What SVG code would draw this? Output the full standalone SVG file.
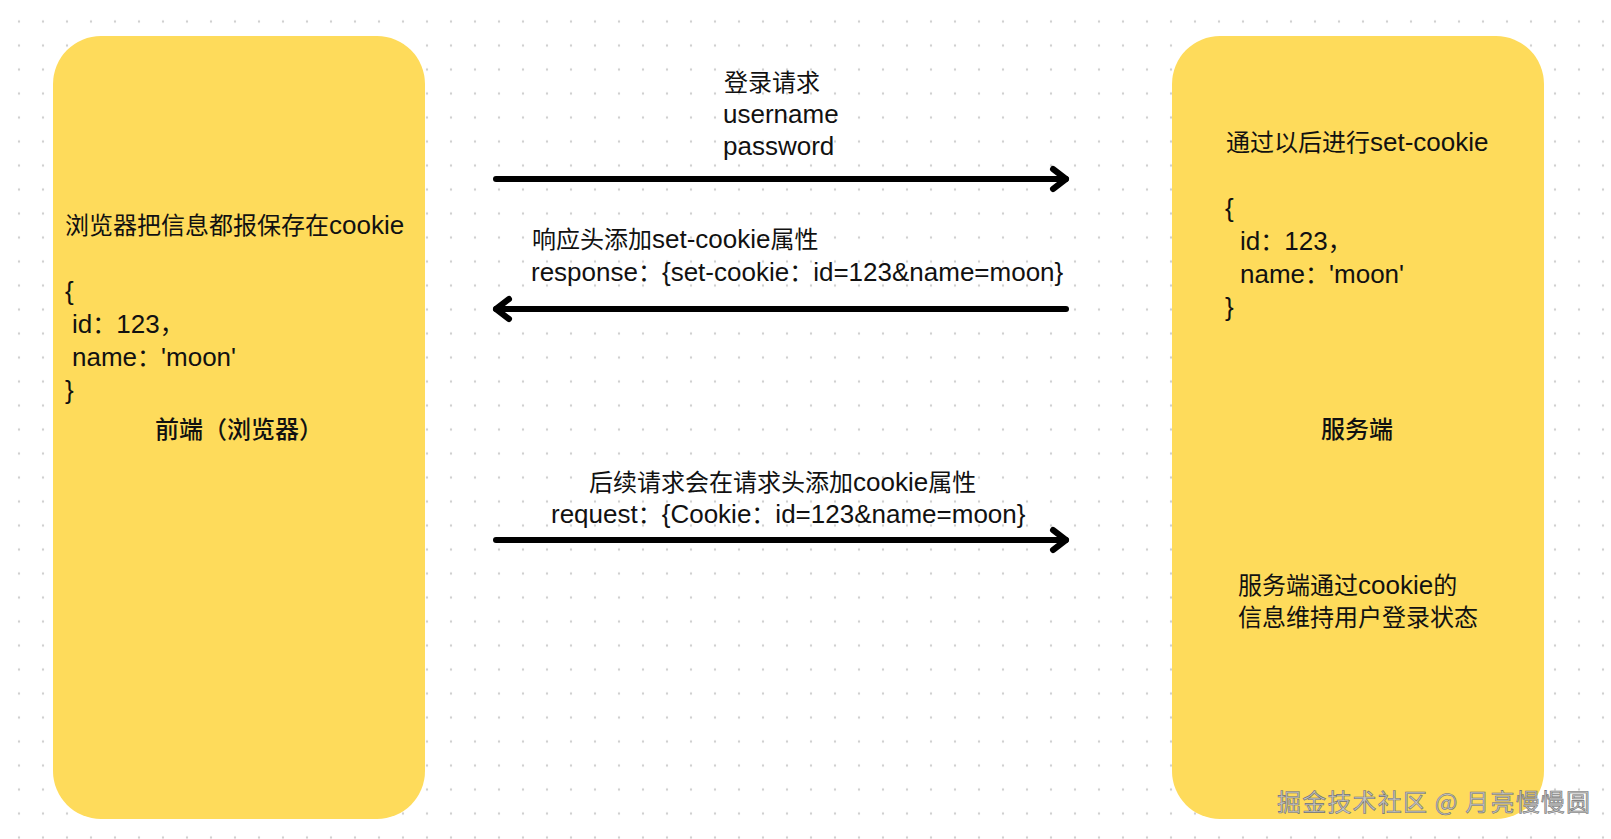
<svg xmlns="http://www.w3.org/2000/svg" width="1611" height="839" viewBox="0 0 1611 839">
<style>
.c{font-family:"Noto Sans CJK SC","Noto Sans CJK JP",sans-serif;font-size:24px;fill:#111}
.l{font-family:"Liberation Sans",Arial,sans-serif;font-size:26px;fill:#111}
.b{font-weight:500}
.box{fill:#FEDB5B}
.arrow{fill:none;stroke:#000;stroke-width:6;stroke-linecap:round;stroke-linejoin:round}
.wm{font-family:"Noto Sans CJK SC",sans-serif;font-size:24px;fill:#c4c4c4;stroke:#707070;stroke-width:0.6;letter-spacing:1.2px}
</style>
<defs>
<pattern id="dots" x="7" y="9.5" width="24" height="24" patternUnits="userSpaceOnUse">
<circle cx="12" cy="12" r="1.2" fill="#cfcfcf"/>
</pattern>
<marker id="chev" markerUnits="userSpaceOnUse" viewBox="-20 -16 26 32" refX="0" refY="0" markerWidth="26" markerHeight="32" orient="auto" overflow="visible">
<path d="M-13 -10 L0 0 L-13 10" fill="none" stroke="#000" stroke-width="6" stroke-linecap="round" stroke-linejoin="round"/>
</marker>
</defs>
<rect width="1611" height="839" fill="#fff"/>
<rect width="1611" height="839" fill="url(#dots)"/>

<g id="node-frontend">
<rect class="box" x="53" y="36" width="372" height="783" rx="48" ry="48"/>
<text class="c" x="65" y="234">浏览器把信息都报保存在<tspan class="l">cookie</tspan></text>
<text class="l" x="65" y="300">{</text>
<text class="c" x="72" y="333"><tspan class="l">id</tspan>：<tspan class="l">123</tspan>，</text>
<text class="c" x="72" y="366"><tspan class="l">name</tspan>：<tspan class="l">'moon'</tspan></text>
<text class="l" x="65" y="399">}</text>
<text class="c b" x="239" y="438" text-anchor="middle">前端（浏览器）</text>
</g>

<g id="node-server">
<rect class="box" x="1172" y="36" width="372" height="783" rx="48" ry="48"/>
<text class="c" x="1226" y="151">通过以后进行<tspan class="l">set-cookie</tspan></text>
<text class="l" x="1225" y="217">{</text>
<text class="c" x="1240" y="250"><tspan class="l">id</tspan>：<tspan class="l">123</tspan>，</text>
<text class="c" x="1240" y="283"><tspan class="l">name</tspan>：<tspan class="l">'moon'</tspan></text>
<text class="l" x="1225" y="316">}</text>
<text class="c b" x="1357" y="438" text-anchor="middle">服务端</text>
<text class="c" x="1238" y="594">服务端通过<tspan class="l">cookie</tspan>的</text>
<text class="c" x="1238" y="626">信息维持用户登录状态</text>
</g>

<g id="connectors">
<g id="edge-login">
<path class="arrow" d="M496 179 H1066" marker-end="url(#chev)"/>
<text class="c" x="724" y="91">登录请求</text>
<text class="l" x="723" y="123">username</text>
<text class="l" x="723" y="155">password</text>
</g>
<g id="edge-response">
<path class="arrow" d="M1066 309 H496" marker-end="url(#chev)"/>
<text class="c" x="532" y="248">响应头添加<tspan class="l">set-cookie</tspan>属性</text>
<text class="c" x="531" y="281"><tspan class="l">response</tspan>：<tspan class="l">{set-cookie</tspan>：<tspan class="l">id=123&amp;name=moon}</tspan></text>
</g>
<g id="edge-request">
<path class="arrow" d="M496 540 H1066" marker-end="url(#chev)"/>
<text class="c" x="589" y="491">后续请求会在请求头添加<tspan class="l">cookie</tspan>属性</text>
<text class="c" x="551" y="523"><tspan class="l">request</tspan>：<tspan class="l">{Cookie</tspan>：<tspan class="l">id=123&amp;name=moon}</tspan></text>
</g>
</g>

<text class="wm" x="1277" y="811">掘金技术社区 @ 月亮慢慢圆</text>
</svg>
